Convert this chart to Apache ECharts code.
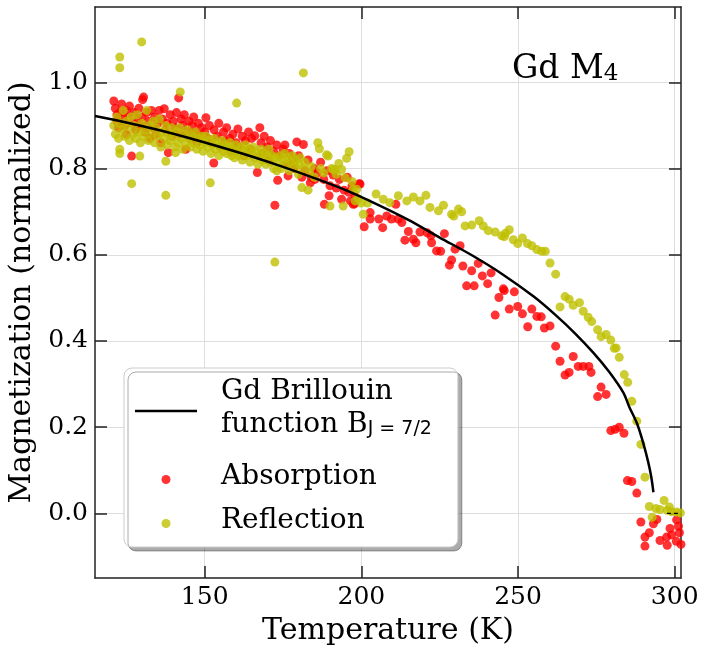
<!DOCTYPE html>
<html>
<head>
<meta charset="utf-8">
<script src="https://cdn.jsdelivr.net/npm/echarts@6/dist/echarts.min.js"></script>
<style>
html,body{margin:0;padding:0;background:#fff;}
#chart{width:703px;height:645px;}
</style>
</head>
<body>
<div id="chart"></div>
<script>
// Tick positions
var xTicks = [150, 200, 250, 300];
var yTicks = [0.0, 0.2, 0.4, 0.6, 0.8, 1.0];

// Brillouin function curve (T in K, normalized M)
var fitT = [115, 125, 135, 145, 155, 165, 175, 185, 195, 205, 215, 225, 235, 245, 255, 262, 268, 274, 279, 283.6, 285.5, 288, 290, 291.5, 292.5, 293.2];
var fitM = [0.922, 0.907, 0.890, 0.871, 0.850, 0.828, 0.804, 0.778, 0.750, 0.717, 0.681, 0.640, 0.600, 0.555, 0.503, 0.460, 0.419, 0.373, 0.329, 0.280, 0.247, 0.208, 0.162, 0.120, 0.085, 0.049];
var zeroT = [297.5, 302];
var zeroM = [0, 0];

// Absorption (red) [T, M]
var absorption = [
[121,0.957],[121.5,0.94],[122,0.925],[122,0.91],[122.5,0.895],[123,0.93],[123.5,0.95],[124,0.915],[124.5,0.90],[125,0.935],[125,0.88],[125.5,0.92],[126,0.945],[126.7,0.829],[127,0.905],[127.5,0.93],[128,0.89],[128.5,0.915],[129,0.94],[129.5,0.90],[130,0.92],[130.2,0.960],[130.5,0.966],[131,0.885],[131.5,0.93],[132,0.91],[132.5,0.87],[133,0.935],[133.5,0.895],[134,0.92],[134.5,0.88],[135,0.905],[135.5,0.935],[136,0.86],[136.5,0.915],[137.1,0.939],[137.5,0.89],[138,0.905],[138.4,0.837],[139,0.925],[139.5,0.875],[140,0.91],[140.5,0.895],[141,0.93],[141.7,0.964],[142,0.88],[142.5,0.915],[143,0.90],[143.5,0.925],[144,0.845],[144.5,0.885],[145,0.91],[145.5,0.87],[146,0.90],[146.5,0.92],[147,0.885],[147.5,0.86],[148,0.905],[148.5,0.875],[149,0.895],[150,0.885],[150.4,0.918],[151,0.87],[151.5,0.90],[152,0.86],[152.9,0.813],[153,0.89],[154,0.875],[154.5,0.905],[155,0.85],[156,0.885],[156.5,0.865],[157,0.895],[158,0.87],[158.5,0.84],[159,0.88],[160,0.86],[160.6,0.892],[161,0.85],[162,0.875],[162.5,0.83],[163,0.865],[164,0.885],[164.5,0.845],[165,0.87],[166,0.876],[166.8,0.791],[167.6,0.895],[168,0.86],[168.5,0.835],[169,0.875],[170,0.85],[170.5,0.82],[171,0.865],[172,0.84],[172.4,0.715],[173,0.855],[173.3,0.773],[174,0.83],[175,0.845],[175.6,0.855],[176,0.81],[176.6,0.783],[177,0.835],[178,0.82],[178.5,0.80],[179.4,0.862],[180,0.83],[181,0.78],[181.5,0.856],[182,0.795],[183,0.82],[183.7,0.767],[184,0.78],[185,0.80],[185.2,0.775],[186,0.79],[187,0.815],[188,0.775],[188.2,0.717],[189,0.795],[189.7,0.737],[190,0.76],[191,0.785],[192,0.755],[193,0.775],[193.7,0.729],[194.5,0.75],[195.5,0.78],[196,0.745],[196.5,0.725],[197,0.76],[197.4,0.717],[197.8,0.718],[198,0.735],[199.3,0.765],[199.6,0.764],
[202.8,0.698],[202.8,0.683],[200.9,0.665],[205.6,0.683],[206.8,0.663],[208.1,0.690],[209.6,0.683],[211.8,0.683],[212.9,0.675],[211,0.717],[215,0.654],[213.9,0.634],[216.6,0.636],[217.4,0.628],[218.7,0.653],[221,0.651],[222.2,0.644],[222.4,0.628],[224,0.609],[225.3,0.608],[226.5,0.649],[229.9,0.613],[231.5,0.621],[228.8,0.588],[228.1,0.576],[232.4,0.574],[235.2,0.563],[237.3,0.580],[238.6,0.551],[241.4,0.558],[233.6,0.528],[236,0.528],[240.3,0.533],[243.9,0.501],[245.3,0.521],
[245.6,0.517],[248.8,0.514],[242.7,0.460],[247.2,0.474],[249.9,0.480],[251.4,0.463],[253.1,0.433],[254.4,0.474],[256,0.457],[257.4,0.456],[258.4,0.430],[260.2,0.435],[262,0.388],[263.4,0.353],[265,0.321],[266.3,0.327],[267.6,0.364],[269.2,0.341],[270.8,0.341],[272.6,0.341],[273.3,0.327],[276.5,0.293],[275.4,0.271],[278.1,0.276],
[279.6,0.192],[281,0.195],[282.3,0.200],[283.8,0.186],[284.9,0.076],[286.3,0.074],[287.9,0.047],[289.2,-0.020],[291.9,-0.045],[290.5,-0.055],[293.2,-0.024],[294.3,-0.014],[295.3,-0.063],[297.4,-0.055],[298.5,-0.035],[300.6,-0.015],[301.2,-0.030],[299,-0.050],[301.5,-0.045],[297.6,-0.074],[290.5,-0.076],[300.5,-0.065],[302,-0.072]
];

// Reflection (olive yellow) [T, M]
var reflection = [
[122.9,1.059],[122.9,1.034],[129.9,1.094],[142.2,0.978],[126.7,0.765],[137.6,0.738],[151.8,0.767],[122.9,0.845],[122.9,0.835],[129.3,0.829],[137.6,0.817],[140.7,0.837],[160.2,0.952],[181.5,1.022],[172.4,0.583],
[121,0.90],[121.5,0.88],[122,0.92],[122.5,0.87],[123,0.905],[123.5,0.89],[124,0.935],[124.5,0.875],[125,0.91],[125.5,0.895],[126,0.865],[126.5,0.92],[127,0.88],[127.5,0.90],[128,0.87],[128.5,0.925],[129,0.885],[129.5,0.86],[130,0.905],[130.5,0.875],[131,0.89],[131.5,0.935],[132,0.865],[132.5,0.90],[133,0.88],[133.5,0.91],[134,0.86],[134.5,0.895],[135,0.875],[135.5,0.915],[136,0.85],[136.5,0.885],[137,0.87],[137.5,0.90],[138,0.855],[138.5,0.88],[139,0.865],[139.5,0.895],[140,0.875],[140.5,0.85],[141,0.885],[141.5,0.86],[142,0.895],[142.5,0.87],[143,0.845],[143.5,0.88],[144,0.86],[144.5,0.89],[145,0.87],[145.5,0.85],[146,0.875],[146.5,0.86],[147,0.885],[147.5,0.845],[148,0.87],[148.5,0.855],[149,0.875],[149.5,0.84],[150,0.86],[150.5,0.875],[151,0.85],[151.5,0.865],[152,0.835],[152.5,0.855],[153,0.87],[153.5,0.845],[154,0.86],[154.5,0.83],[155,0.85],[155.5,0.865],[156,0.84],[156.5,0.855],[157,0.835],[157.5,0.85],[158,0.86],[158.5,0.83],[159,0.845],[159.5,0.825],[160,0.855],[160.5,0.84],[161,0.83],[161.5,0.85],[162,0.82],[162.5,0.84],[163,0.855],[163.5,0.83],[164,0.845],[164.5,0.815],[165,0.835],[165.5,0.85],[166,0.825],[166.5,0.84],[167,0.81],[167.5,0.83],[168,0.845],[168.5,0.82],[169,0.835],[169.5,0.81],[170,0.83],[170.5,0.845],[171,0.815],[171.5,0.83],[172,0.80],[172.5,0.825],[173,0.795],[173.5,0.815],[174,0.83],[174.5,0.80],[175,0.82],[175.5,0.835],[176,0.81],[176.5,0.825],[177,0.795],[177.5,0.815],[178,0.83],[178.8,0.806],[179,0.82],[179.9,0.787],[180,0.81],[180.5,0.825],[181,0.756],[181.5,0.80],[182,0.815],[183,0.75],[183.5,0.79],[184,0.805],[185,0.78],[186.1,0.860],[186.6,0.846],[187,0.80],[188,0.79],[188.9,0.832],[189.4,0.829],[190,0.713],[190.5,0.80],[191.1,0.798],[191.6,0.798],[192,0.787],[192.8,0.812],[193.7,0.798],[194.2,0.713],[194.8,0.779],[195.3,0.824],[196.1,0.839],[197,0.77],[197.4,0.752],[198,0.725],[198.5,0.752],[199,0.73],[200,0.72],
[200.6,0.694],[202,0.72],[204.7,0.741],[207,0.729],[209.1,0.721],[211.8,0.737],[214.5,0.725],[216.6,0.734],[218.7,0.725],[220.6,0.738],[221.9,0.710],[224.6,0.702],[226.2,0.715],[228.8,0.694],[231,0.706],[232,0.700],[229.5,0.690],[233.1,0.667],[235.2,0.669],[237.6,0.679],[238.9,0.667],[240.5,0.656],[242.7,0.653],[244.8,0.644],
[246,0.650],[245.6,0.642],[247.2,0.658],[248.5,0.635],[249.9,0.626],[251.4,0.639],[253,0.626],[254.4,0.621],[256,0.612],[257.6,0.608],[258.7,0.608],[260.2,0.581],[262,0.555],[265,0.503],[266.3,0.497],[263.4,0.479],[267.6,0.483],[269.6,0.489],[270.8,0.469],[272.4,0.455],[273.5,0.445],[275.4,0.426],[276.5,0.410],[278.1,0.415],[279.6,0.402],[280.7,0.383],
[281.3,0.384],[282.3,0.362],[283.9,0.322],[285,0.304],[286.3,0.260],[287.9,0.214],[289.2,0.160],[290.5,0.084],[291.9,0.016],[292.8,-0.009],[294,0.011],[295.3,0.009],[296.6,0.030],[297.6,0.007],[299,0.004],[300.6,0.003],[301.8,0.001],[298.3,0.015]
];

function zip(a, b) { return a.map(function (v, i) { return [v, b[i]]; }); }

var serif = 'DejaVu Serif';
var axisColor = '#222';
var fitName = 'Gd Brillouin function';

var chart = echarts.init(document.getElementById('chart'), null, {renderer: 'canvas'});

function xAx(pos, main) {
  return {
    type: 'value', position: pos, min: 115, max: 302,
    axisLine: {show: true, onZero: false, lineStyle: {color: axisColor, width: 1.5}},
    axisTick: {show: true, inside: true, length: 12, customValues: xTicks, lineStyle: {color: axisColor, width: 1.5}},
    axisLabel: {show: main, customValues: xTicks, fontSize: 25, fontFamily: serif, color: '#000', margin: 7},
    splitLine: {show: main, lineStyle: {color: '#dedede', width: 1}},
    name: main ? 'Temperature (K)' : '', nameLocation: 'middle', nameGap: 38,
    nameTextStyle: {fontSize: 30, fontFamily: serif, color: '#000'}
  };
}
function yAx(pos, main) {
  return {
    type: 'value', position: pos, min: -0.15, max: 1.175,
    axisLine: {show: true, onZero: false, lineStyle: {color: axisColor, width: 1.5}},
    axisTick: {show: true, inside: true, length: 12, customValues: yTicks, lineStyle: {color: axisColor, width: 1.5}},
    axisLabel: {show: main, customValues: yTicks, fontSize: 25, fontFamily: serif, color: '#000', margin: 7,
      formatter: function (v) { return v.toFixed(1); }},
    splitLine: {show: main, lineStyle: {color: '#dedede', width: 1}},
    name: main ? 'Magnetization (normalized)' : '', nameLocation: 'middle', nameGap: 37,
    nameTextStyle: {fontSize: 30, fontFamily: serif, color: '#000'}
  };
}

chart.setOption({
  animation: false,
  backgroundColor: '#fff',
  grid: {left: 95, right: 22, top: 7, bottom: 67, containLabel: false, outerBoundsMode: 'none'},
  title: {
    text: '{a|Gd M}{b|4}', left: 507, top: 48,
    textStyle: {fontWeight: 'normal', rich: {
      a: {fontSize: 33, fontFamily: serif, fontWeight: 'normal', color: '#000', lineHeight: 36, verticalAlign: 'top'},
      b: {fontSize: 23, fontFamily: serif, fontWeight: 'normal', color: '#000', lineHeight: 36, verticalAlign: 'top', padding: [10, 0, 0, 0]}
    }}
  },
  xAxis: [xAx('bottom', true), xAx('top', false)],
  yAxis: [yAx('left', true), yAx('right', false)],
  legend: {
    data: [
      {name: fitName, icon: 'path://M0,0 L62,0 L62,2.5 L0,2.5 Z'},
      {name: 'Absorption'},
      {name: 'Reflection'}
    ],
    orient: 'vertical', left: 124, top: 368,
    itemWidth: 62, itemHeight: 9, itemGap: 16,
    padding: [10, 26, 12, 11],
    backgroundColor: '#fff', borderColor: '#cccccc', borderWidth: 1, borderRadius: 8,
    shadowColor: 'rgba(0,0,0,0.33)', shadowBlur: 0, shadowOffsetX: 4, shadowOffsetY: 4,
    selectedMode: false,
    formatter: function (name) {
      if (name === fitName) return '{t|Gd Brillouin}\n{t|function B}{s|J = 7/2}';
      return '{t|' + name + '}';
    },
    textStyle: {
      padding: [0, 0, 0, 19],
      rich: {
        t: {fontSize: 28, fontFamily: serif, color: '#000', lineHeight: 33, verticalAlign: 'top'},
        s: {fontSize: 19, fontFamily: 'DejaVu Sans', color: '#000', lineHeight: 33, verticalAlign: 'top', padding: [9, 0, 8, 0]}
      }
    }
  },
  series: [
    {name: 'Absorption', type: 'scatter', xAxisIndex: 0, yAxisIndex: 0, data: absorption,
     symbol: 'circle', symbolSize: 9, itemStyle: {color: '#ff0000', opacity: 0.8}, z: 2},
    {name: 'Reflection', type: 'scatter', xAxisIndex: 0, yAxisIndex: 0, data: reflection,
     symbol: 'circle', symbolSize: 9, itemStyle: {color: '#bfbf00', opacity: 0.8}, z: 3},
    {name: fitName, type: 'line', xAxisIndex: 0, yAxisIndex: 0, data: zip(fitT, fitM),
     symbol: 'none', showSymbol: false, smooth: 0.3, lineStyle: {color: '#000', width: 2.5}, itemStyle: {color: '#000'}, z: 5},
    {name: 'zero', type: 'line', xAxisIndex: 0, yAxisIndex: 0, data: zip(zeroT, zeroM),
     symbol: 'none', showSymbol: false, lineStyle: {color: '#000', width: 1.2, type: [4, 3]}, z: 5}
  ]
});
</script>
</body>
</html>
